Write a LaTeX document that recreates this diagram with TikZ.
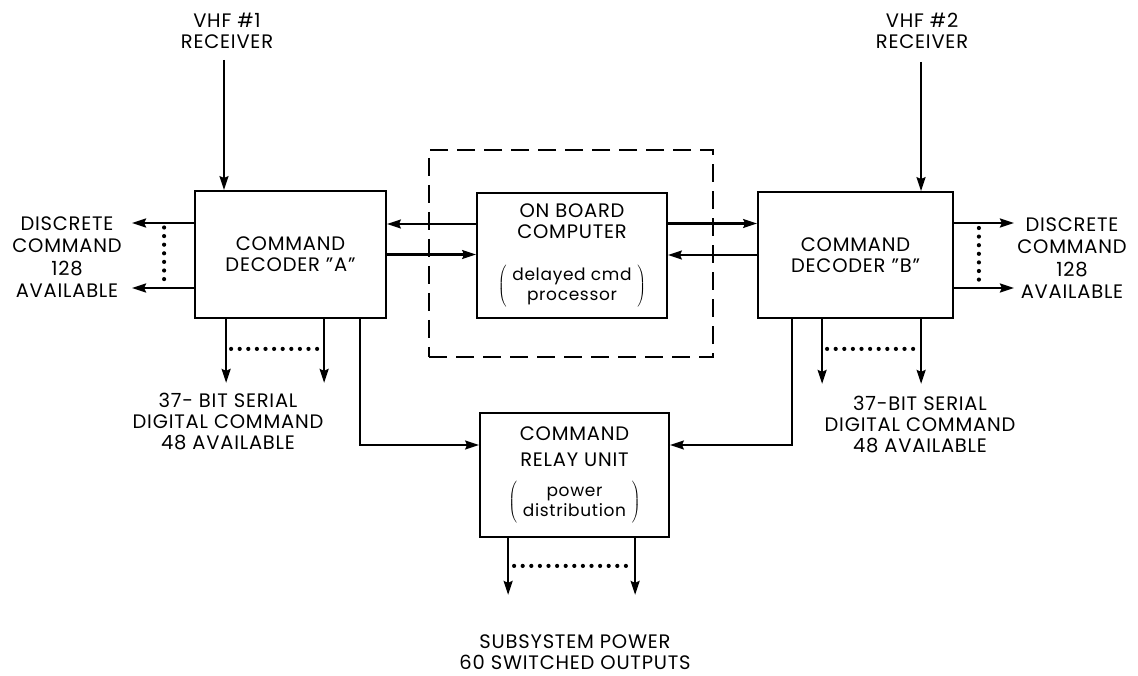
\documentclass[tikz,border=0pt]{standalone}
\usepackage{fontspec}
\setmainfont{Poppins}[LetterSpace=4]
\usetikzlibrary{arrows.meta,calc}
\newcommand\lblfont{\fontsize{19.5}{21}\selectfont}
\newcommand\smallfont{\fontsize{17}{20}\selectfont}
\newcommand\parenbox[1]{$\left(\;\vcenter{\hbox{\smallfont\begin{tabular}{@{}c@{}}#1\end{tabular}}}\;\right)$}
\begin{document}
\begin{tikzpicture}[x=1pt,y=-1pt,
  box/.style={draw, line width=1.8pt, inner sep=0pt, align=center, font=\lblfont},
  lab/.style={align=center, inner sep=0pt, font=\lblfont},
  arr/.style={line width=2.2pt, -{Stealth[length=14pt,width=9pt,inset=2pt]}},
  dotline/.style={line width=4.2pt, dash pattern=on 0pt off 8.6pt, line cap=round},
  dashbox/.style={draw, line width=2.2pt, dash pattern=on 18pt off 9pt}]
\useasboundingbox (0,0) rectangle (1138,676);
% boxes
\node[dashbox, minimum width=284, minimum height=207] (D) at (571,253.5) {};
\node[box, minimum width=191, minimum height=127] (A) at (290.5,254.5) {COMMAND\\DECODER "A"};
\node[box, minimum width=190, minimum height=125] (C) at (572,255.5) {ON BOARD\\COMPUTER\\[26pt]\parenbox{delayed cmd\\processor}};
\node[box, minimum width=195, minimum height=126] (B) at (855.5,255) {COMMAND\\DECODER "B"};
\node[box, minimum width=189, minimum height=124] (R) at (574.5,475) {COMMAND\\[5pt]RELAY UNIT\\[14pt]\parenbox{power\\distribution}};
% labels
\node[lab] (v1) at (227,31) {VHF \#1\\RECEIVER};
\node[lab] (v2) at (922,31) {VHF \#2\\RECEIVER};
\node[lab, font=\fontsize{19.5}{22.3}\selectfont] (dl) at (67,257) {DISCRETE\\COMMAND\\128\\AVAILABLE};
\node[lab, font=\fontsize{19.5}{22.3}\selectfont] (dr) at (1072,258) {DISCRETE\\COMMAND\\128\\AVAILABLE};
\node[lab] (sa) at (228,422) {37- BIT SERIAL\\DIGITAL COMMAND\\48 AVAILABLE};
\node[lab] (sb) at (920,425) {37-BIT SERIAL\\DIGITAL COMMAND\\48 AVAILABLE};
\node[lab] (sp) at (575,652) {SUBSYSTEM POWER\\60 SWITCHED OUTPUTS};
% receiver inputs
\coordinate (v1in) at (224,60);
\coordinate (v2in) at (921,62);
\draw[arr] (v1in) -- (v1in |- A.north);
\draw[arr] (v2in) -- (v2in |- B.north);
% A <-> C
\draw[arr] ([yshift=31.5]C.west) -- ([yshift=31.5]C.west -| A.east);
\draw[arr] (A.east) -- (A.east -| C.west);
% C <-> B
\draw[arr] ([yshift=32]C.east) -- ([yshift=32]C.east -| B.west);
\draw[arr] (B.west) -- (B.west -| C.east);
% discrete outputs A
\draw[arr] ([yshift=31.5]A.west) -- +(-62,0);
\draw[arr] ([yshift=-33.5]A.west) -- +(-62,0);
\draw[dotline] ([xshift=-30,yshift=27]A.west) -- ([xshift=-30,yshift=-29]A.west);
% discrete outputs B
\draw[arr] ([yshift=32]B.east) -- +(60,0);
\draw[arr] ([yshift=-33]B.east) -- +(60,0);
\draw[dotline] ([xshift=25,yshift=27]B.east) -- ([xshift=25,yshift=-29]B.east);
% serial outputs A
\draw[arr] ([xshift=32]A.south west) -- +(0,64);
\draw[arr] ([xshift=130]A.south west) -- +(0,64);
\draw[dotline] ([xshift=37,yshift=-30]A.south west) -- ([xshift=126,yshift=-30]A.south west);
% serial outputs B
\draw[arr] ([xshift=65]B.south west) -- +(0,65);
\draw[arr] ([xshift=164]B.south west) -- +(0,65);
\draw[dotline] ([xshift=70,yshift=-30]B.south west) -- ([xshift=160,yshift=-30]B.south west);
% decoders to relay
\draw[arr] ([xshift=-27]A.south east) |- ([yshift=30]R.west);
\draw[arr] ([xshift=35]B.south west) |- ([yshift=30]R.east);
% relay outputs
\draw[arr] ([xshift=29]R.south west) -- +(0,57);
\draw[arr] ([xshift=156]R.south west) -- +(0,57);
\draw[dotline] ([xshift=35,yshift=-28]R.south west) -- ([xshift=152,yshift=-28]R.south west);
\end{tikzpicture}
\end{document}
